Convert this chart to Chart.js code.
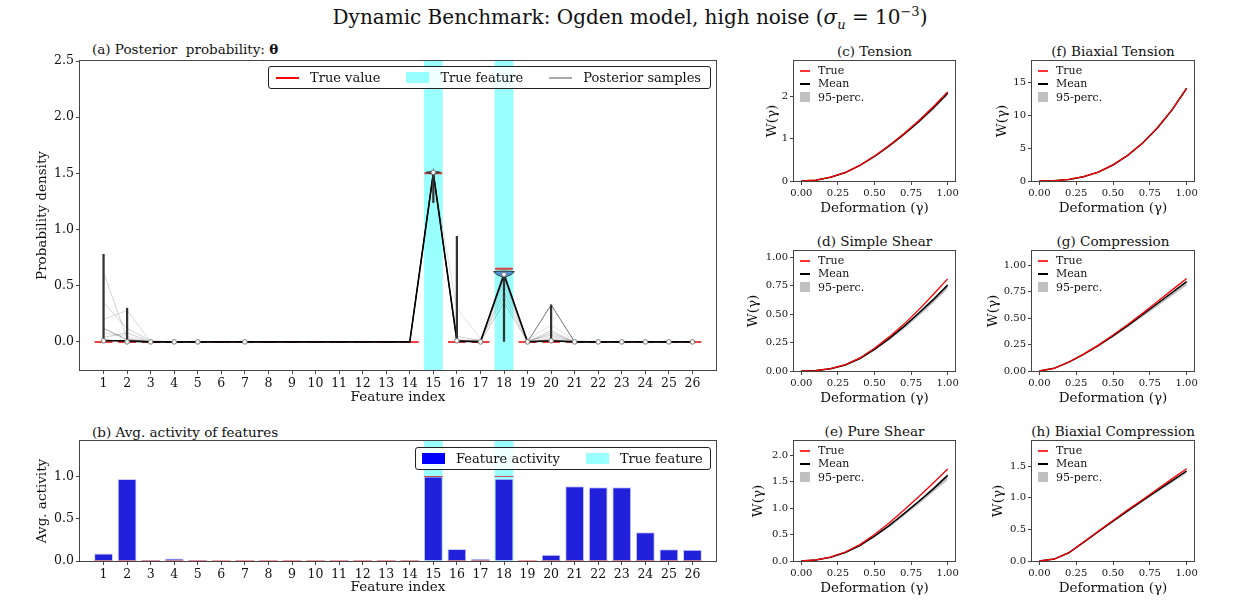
<!DOCTYPE html>
<html>
<head>
<meta charset="utf-8">
<script src="https://cdn.jsdelivr.net/npm/chart.js@4.4.0/dist/chart.umd.min.js"></script>
<style>
  body { margin: 0; width: 1252px; height: 602px; background: #fff; position: relative; overflow: hidden;
         font-family: 'DejaVu Serif', serif; color: #111; }
  .box { position: absolute; }
  .txt { position: absolute; white-space: nowrap; }
  .legend { position: absolute; z-index: 5; display: flex; align-items: center; background: rgba(255,255,255,0.85);
            border: 1px solid #222; border-radius: 3px; box-sizing: border-box; font-size: 13px; }
  .legend .h { display: inline-block; margin-right: 11px; }
  .legend .item { display: flex; align-items: center; margin-right: 26px; }
  .legend .item:last-child { margin-right: 0; }
  .sleg { position: absolute; z-index: 5; font-size: 11px; line-height: 13.3px; }
  .sleg div { display: flex; align-items: center; }
  .sleg .h { display: inline-block; width: 10px; margin: 0 8px 0 0; }
</style>
</head>
<body>
<div class="txt" style="left:630px;top:18px;transform:translate(-50%,-50%);font-size:20px;">
  Dynamic Benchmark: Ogden model, high noise (<i>σ<sub style="font-size:13px">u</sub></i> = 10<sup style="font-size:13px">−3</sup>)
</div>
<div class="txt" style="left:92px;top:49px;transform:translateY(-50%);font-size:13.5px;">(a) Posterior&nbsp; probability: <b>θ</b></div>
<div class="txt" style="left:92px;top:432px;transform:translateY(-50%);font-size:13.5px;">(b) Avg. activity of features</div>

<div class="legend" style="left:268px;top:66px;width:443px;height:23px;padding:0 7px;">
  <div class="item"><span class="h" style="width:23px;height:2px;background:#f00"></span>True value</div>
  <div class="item"><span class="h" style="width:23px;height:11px;background:rgba(0,255,255,0.4)"></span>True feature</div>
  <div class="item"><span class="h" style="width:23px;height:2px;background:#aaa"></span>Posterior samples</div>
</div>
<div class="legend" style="left:415px;top:447px;width:296px;height:23px;padding:0 6px;">
  <div class="item"><span class="h" style="width:23px;height:11px;background:#0000ff"></span>Feature activity</div>
  <div class="item"><span class="h" style="width:23px;height:11px;background:rgba(0,255,255,0.4)"></span>True feature</div>
</div>

<script>
// ---- data: posterior over feature coefficients ----
const featureIdx = [1,2,3,4,5,6,7,8,9,10,11,12,13,14,15,16,17,18,19,20,21,22,23,24,25,26];
const trueTheta  = [0,0,0,0,0,0,0,0,0,0,0,0,0,0,1.5,0,0,0.65,0,0,0,0,0,0,0,0];
const posteriorSamples = [
  [0.01,0.01,0,0,0,0,0,0,0,0,0,0,0,0,1.50,0.01,0.00,0.60,0,0.01,0,0,0,0,0,0],
  [0.02,0.00,0,0,0,0,0,0,0,0,0,0,0,0,1.51,0.00,0.01,0.59,0,0.33,0,0,0,0,0,0],
  [0.62,0.03,0,0,0,0,0,0,0,0,0,0,0,0,1.49,0.02,0.00,0.55,0,0.10,0,0,0,0,0,0],
  [0.35,0.12,0.01,0,0,0,0,0,0,0,0,0,0,0,1.50,0.05,0.01,0.45,0.01,0.06,0,0,0,0,0,0],
  [0.20,0.28,0,0,0,0,0,0,0,0,0,0,0,0,1.52,0.01,0.02,0.40,0,0.04,0,0,0,0,0,0],
  [0.08,0.05,0,0,0,0,0,0,0,0,0,0,0,0,1.48,0.30,0.03,0.50,0.02,0.15,0.01,0,0,0,0,0],
  [0.12,0.02,0,0,0,0,0,0,0,0,0,0,0,0,1.50,0.00,0.00,0.62,0,0.02,0,0,0,0,0,0],
  [0.04,0.08,0,0,0,0,0,0,0,0,0,0,0,0,1.51,0.01,0.00,0.35,0,0.08,0,0,0,0,0,0]
];
const sampleAlpha = [0.95, 0.55, 0.18, 0.18, 0.15, 0.12, 0.35, 0.2];
const extremaIdx = [1, 2, 15, 16, 18, 20];
const extremaLo  = [0, 0, 1.24, 0, 0, 0];
const extremaHi  = [0.78, 0.30, 1.52, 0.94, 0.60, 0.33];
const medianIdx  = [1,2,3,4,5,7,15,16,17,18,19,20,21,22,23,24,25,26];
const medianVal  = [0.01,0,0,0,0,0,1.51,0.01,0,0.6,0,0.01,0,0,0,0,0,0];
const violin18X = [17.56,17.7,17.85,18,18.15,18.3,18.44,18.3,18.15,18,17.85,17.7,17.56];
const violin18Y = [0.625,0.628,0.63,0.63,0.63,0.628,0.625,0.6,0.585,0.575,0.585,0.6,0.625];
const violin15X = [14.7,14.85,15,15.15,15.3,15.15,15,14.85,14.7];
const violin15Y = [1.51,1.515,1.52,1.515,1.51,1.50,1.49,1.50,1.51];
const trueFeatures = [15, 18];

// ---- data: average activity ----
const activity = [0.09,0.97,0.012,0.031,0.012,0.003,0.002,0.002,0.002,0.002,0.002,0.002,0.002,0.002,
                  1.0,0.143,0.023,0.973,0.003,0.074,0.884,0.872,0.872,0.341,0.14,0.132];
const trueActivity = [0,0,0,0,0,0,0,0,0,0,0,0,0,0,1,0,0,1,0,0,0,0,0,0,0,0];

// ---- data: strain energy curves ----
const gamma = [0,0.1,0.2,0.3,0.4,0.5,0.6,0.7,0.8,0.9,1.0];
const gammaTicks = [0,0.25,0.5,0.75,1.0];
const tensTrue = [0,0.02,0.09,0.2,0.37,0.59,0.84,1.12,1.42,1.75,2.11];
const tensMean = [0,0.02,0.09,0.2,0.37,0.58,0.83,1.1,1.4,1.72,2.08];
const tensLo   = [0,0.02,0.085,0.19,0.36,0.56,0.8,1.07,1.36,1.68,2.03];
const tensHi   = [0,0.02,0.095,0.205,0.38,0.6,0.85,1.13,1.44,1.77,2.13];
const btTrue = [0,0.04,0.24,0.66,1.36,2.45,3.9,5.75,8.05,10.8,14.1];
const btMean = [0,0.04,0.24,0.65,1.35,2.43,3.88,5.72,8.0,10.75,14.05];
const btLo   = [0,0.04,0.23,0.63,1.32,2.38,3.8,5.62,7.88,10.6,13.85];
const btHi   = [0,0.04,0.25,0.67,1.38,2.48,3.95,5.8,8.1,10.9,14.25];
const ssTrue = [0,0.004,0.02,0.055,0.115,0.2,0.3,0.41,0.535,0.67,0.81];
const ssMean = [0,0.004,0.02,0.053,0.11,0.19,0.285,0.39,0.505,0.625,0.755];
const ssLo   = [0,0.003,0.018,0.05,0.104,0.18,0.27,0.37,0.48,0.595,0.72];
const ssHi   = [0,0.004,0.021,0.055,0.114,0.196,0.293,0.4,0.518,0.64,0.77];
const cpTrue = [0,0.025,0.085,0.16,0.245,0.34,0.44,0.545,0.655,0.765,0.875];
const cpMean = [0,0.025,0.084,0.158,0.24,0.333,0.43,0.532,0.636,0.74,0.845];
const cpLo   = [0,0.024,0.08,0.152,0.232,0.32,0.413,0.51,0.61,0.71,0.81];
const cpHi   = [0,0.025,0.085,0.16,0.243,0.337,0.436,0.538,0.643,0.748,0.855];
const psTrue = [0,0.02,0.075,0.17,0.31,0.5,0.72,0.96,1.21,1.47,1.74];
const psMean = [0,0.02,0.072,0.16,0.29,0.47,0.67,0.89,1.12,1.36,1.62];
const psLo   = [0,0.018,0.068,0.152,0.277,0.45,0.64,0.85,1.07,1.3,1.53];
const psHi   = [0,0.02,0.074,0.165,0.297,0.48,0.685,0.91,1.145,1.39,1.65];
const bcTrue = [0,0.03,0.13,0.3,0.47,0.64,0.81,0.97,1.135,1.3,1.46];
const bcMean = [0,0.03,0.13,0.295,0.465,0.63,0.795,0.955,1.115,1.27,1.425];
const bcLo   = [0,0.029,0.125,0.288,0.455,0.615,0.777,0.933,1.09,1.24,1.39];
const bcHi   = [0,0.03,0.132,0.3,0.47,0.638,0.805,0.965,1.125,1.283,1.44];

Chart.defaults.font.family = "'DejaVu Serif', serif";
Chart.defaults.color = '#111';
Chart.defaults.animation = false;
Chart.defaults.plugins.legend.display = false;
Chart.defaults.plugins.tooltip.enabled = false;
Chart.defaults.elements.point.radius = 0;
Chart.defaults.elements.line.tension = 0;

// box around the plot area, like matplotlib spines
const frame = {
  id: 'frame',
  afterDraw(chart) {
    const a = chart.chartArea, c = chart.ctx;
    c.save();
    c.strokeStyle = '#444';
    c.lineWidth = 1;
    c.strokeRect(Math.round(a.left) - 0.5, Math.round(a.top) - 0.5,
                 Math.round(a.right - a.left) + 1, Math.round(a.bottom - a.top) + 1);
    c.restore();
  }
};

function axis(pos, min, max, ticks, fmt, size, title, fixed) {
  return {
    type: 'linear', position: pos, min: min, max: max, offset: false,
    afterBuildTicks: s => { s.ticks = ticks.map(v => ({ value: v })); },
    afterFit: s => { if (pos === 'bottom') s.height = fixed; else s.width = fixed; },
    ticks: { font: { size: size }, color: '#111', padding: 2, maxRotation: 0, autoSkip: false,
             callback: v => fmt(v) },
    grid: { offset: false, drawOnChartArea: false, drawTicks: true, tickLength: 4, color: '#444' },
    border: { display: false },
    title: { display: true, text: title, font: { size: 13.5 }, color: '#111', padding: { top: 4, bottom: 4 } }
  };
}

// ax = [left, top, width, height] of plot area in page pixels
function addChart(ax, yW, xH, config) {
  const padT = 10, padR = 16;
  const div = document.createElement('div');
  div.className = 'box';
  div.style.left = (ax[0] - yW) + 'px';
  div.style.top = (ax[1] - padT) + 'px';
  div.style.width = (ax[2] + yW + padR) + 'px';
  div.style.height = (ax[3] + padT + xH) + 'px';
  const cv = document.createElement('canvas');
  div.appendChild(cv);
  document.body.appendChild(div);
  config.options.responsive = true;
  config.options.maintainAspectRatio = false;
  config.options.layout = { padding: { top: padT, right: padR, left: 0, bottom: 0 } };
  config.plugins = [frame];
  return new Chart(cv, config);
}

function seg(idx, vals, half) {
  const out = [];
  idx.forEach((x, k) => { out.push({ x: x - half, y: vals[k] }, { x: x + half, y: vals[k] }, { x: x, y: null }); });
  return out;
}
const pts = (xs, ys) => xs.map((x, k) => ({ x: x, y: ys[k] }));

// ---- (a) posterior ----
const aSets = [];
aSets.push({ type: 'bar', data: trueFeatures.map(f => ({ x: f, y: [-0.25, 2.5] })), backgroundColor: 'rgba(0,255,255,0.4)',
             grouped: false, categoryPercentage: 1, barPercentage: 0.8, order: 20 });
aSets.push({ type: 'line', data: seg(featureIdx, trueTheta, 0.38), borderColor: 'rgba(235,0,0,0.75)', borderWidth: 2,
             spanGaps: false, order: 15 });
posteriorSamples.forEach((s, k) => {
  aSets.push({ type: 'line', data: pts(featureIdx, s), borderColor: 'rgba(0,0,0,' + sampleAlpha[k] + ')',
               borderWidth: k === 0 ? 1.6 : 1, order: 14 - k });
});
aSets.push({ type: 'bar', data: extremaIdx.map((x, k) => ({ x: x, y: [extremaLo[k], extremaHi[k]] })),
             backgroundColor: '#333', barThickness: 1.6, grouped: false, order: 4 });
aSets.push({ type: 'line', data: pts(violin18X, violin18Y), borderColor: '#333', borderWidth: 1,
             backgroundColor: 'rgba(60,130,200,0.85)', fill: 'shape', order: 3 });
aSets.push({ type: 'line', data: pts(violin15X, violin15Y), borderColor: '#333', borderWidth: 1,
             backgroundColor: 'rgba(80,80,80,0.8)', fill: 'shape', order: 3 });
aSets.push({ type: 'scatter', data: pts(medianIdx, medianVal), pointRadius: 2.3, pointBackgroundColor: '#fff',
             pointBorderColor: '#777', pointBorderWidth: 1, order: 1 });

addChart([80, 61, 636, 309], 50, 40, {
  type: 'line',
  data: { datasets: aSets },
  options: {
    scales: {
      x: axis('bottom', 0, 27, featureIdx, v => String(v), 12.5, 'Feature index', 40),
      y: axis('left', -0.25, 2.5, [0, 0.5, 1, 1.5, 2, 2.5], v => v.toFixed(1), 12.5, 'Probability density', 50)
    }
  }
});

// ---- (b) activity ----
addChart([80, 441, 636, 120], 50, 39, {
  type: 'bar',
  data: { datasets: [
    { type: 'bar', data: trueFeatures.map(f => ({ x: f, y: [0, 1.42] })), backgroundColor: 'rgba(0,255,255,0.4)',
      grouped: false, categoryPercentage: 1, barPercentage: 0.8, order: 20 },
    { type: 'bar', data: pts(featureIdx, activity), backgroundColor: '#2121dc', borderColor: 'rgba(200,200,255,0.9)',
      borderWidth: 1, grouped: false, categoryPercentage: 1, barPercentage: 0.8, order: 5 },
    { type: 'line', data: seg(featureIdx, trueActivity, 0.4), borderColor: 'rgba(220,0,0,0.7)', borderWidth: 1,
      spanGaps: false, order: 1 }
  ] },
  options: {
    scales: {
      x: axis('bottom', 0, 27, featureIdx, v => String(v), 12.5, 'Feature index', 39),
      y: axis('left', 0, 1.42, [0, 0.5, 1.0], v => v.toFixed(1), 12.5, 'Avg. activity', 50)
    }
  }
});

// ---- (c)-(h) strain energy panels ----
const loadCases = [
  { tag: '(c) Tension',             ax: [794, 61, 161, 120],  yW: 34, yMax: 2.84, yTicks: [0, 1, 2],            dec: 0, tr: tensTrue, mn: tensMean, lo: tensLo, hi: tensHi },
  { tag: '(f) Biaxial Tension',     ax: [1032, 61, 162, 120], yW: 42, yMax: 18.2, yTicks: [0, 5, 10, 15],       dec: 0, tr: btTrue,   mn: btMean,   lo: btLo,   hi: btHi },
  { tag: '(d) Simple Shear',        ax: [794, 251, 161, 120], yW: 53, yMax: 1.055, yTicks: [0, 0.25, 0.5, 0.75, 1], dec: 2, tr: ssTrue, mn: ssMean, lo: ssLo, hi: ssHi },
  { tag: '(g) Compression',         ax: [1032, 251, 162, 120], yW: 51, yMax: 1.135, yTicks: [0, 0.25, 0.5, 0.75, 1], dec: 2, tr: cpTrue, mn: cpMean, lo: cpLo, hi: cpHi },
  { tag: '(e) Pure Shear',          ax: [794, 441, 161, 120], yW: 48, yMax: 2.27, yTicks: [0, 0.5, 1, 1.5, 2],   dec: 1, tr: psTrue,   mn: psMean,   lo: psLo,   hi: psHi },
  { tag: '(h) Biaxial Compression', ax: [1032, 441, 162, 120], yW: 46, yMax: 1.9, yTicks: [0, 0.5, 1, 1.5],     dec: 1, tr: bcTrue,   mn: bcMean,   lo: bcLo,   hi: bcHi }
];

loadCases.forEach(p => {
  const t = document.createElement('div');
  t.className = 'txt';
  t.style.cssText = 'left:' + (p.ax[0] + p.ax[2] / 2) + 'px;top:' + (p.ax[1] - 10) + 'px;transform:translate(-50%,-50%);font-size:13.5px;';
  t.textContent = p.tag;
  document.body.appendChild(t);

  const lg = document.createElement('div');
  lg.className = 'sleg';
  lg.style.left = (p.ax[0] + 6) + 'px';
  lg.style.top = (p.ax[1] + 3) + 'px';
  lg.innerHTML =
    '<div><span class="h" style="height:2px;background:#f33"></span>True</div>' +
    '<div><span class="h" style="height:2px;background:#000"></span>Mean</div>' +
    '<div><span class="h" style="height:10px;background:#c0c0c0"></span>95-perc.</div>';
  document.body.appendChild(lg);

  addChart(p.ax, p.yW, 40, {
    type: 'line',
    data: { datasets: [
      { data: pts(gamma, p.lo), borderWidth: 0, borderColor: 'rgba(0,0,0,0)', order: 4 },
      { data: pts(gamma, p.hi), borderWidth: 0, borderColor: 'rgba(0,0,0,0)', fill: '-1',
        backgroundColor: 'rgba(150,150,150,0.6)', order: 3 },
      { data: pts(gamma, p.mn), borderColor: '#000', borderWidth: 1.5, order: 2 },
      { data: pts(gamma, p.tr), borderColor: '#f00', borderWidth: 1.3, order: 1 }
    ] },
    options: {
      scales: {
        x: axis('bottom', -0.05, 1.05, gammaTicks, v => v.toFixed(2), 10, 'Deformation (γ)', 40),
        y: axis('left', 0, p.yMax, p.yTicks, v => v.toFixed(p.dec), 10, 'W(γ)', p.yW)
      }
    }
  });
});
</script>
</body>
</html>
